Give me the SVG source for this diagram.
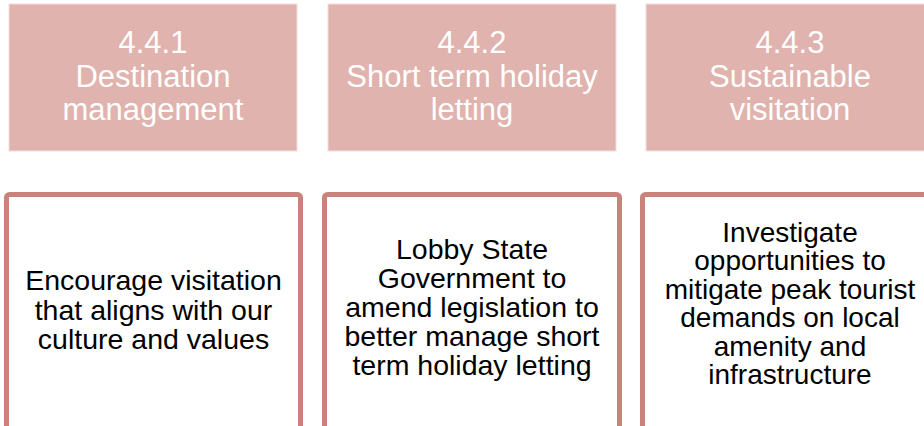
<svg xmlns="http://www.w3.org/2000/svg" width="924" height="426" viewBox="0 0 924 426">
<style>
.hd rect{fill:#e0b3ae;stroke:#f3dedb;stroke-width:1}
.hd text{fill:#ffffff;font-family:"Liberation Sans",Arial,sans-serif;font-size:31px;text-anchor:middle}
.bd rect{fill:#ffffff;stroke:#c9837a;stroke-width:5}
.bd text{fill:#000000;font-family:"Liberation Sans",Arial,sans-serif;font-size:28.5px;text-anchor:middle}
#b3 text{font-size:28px}
</style>
<rect width="924" height="426" fill="#ffffff"/>
<g id="h1" class="hd">
<rect x="9" y="4" width="288" height="147"/>
<text x="153" y="53">4.4.1</text>
<text x="153" y="86.5">Destination</text>
<text x="153" y="119.5">management</text>
</g>
<g id="h2" class="hd">
<rect x="328" y="4" width="288" height="147"/>
<text x="472" y="53">4.4.2</text>
<text x="472" y="86.5">Short term holiday</text>
<text x="472" y="119.5">letting</text>
</g>
<g id="h3" class="hd">
<rect x="646" y="4" width="288" height="147"/>
<text x="790" y="53">4.4.3</text>
<text x="790" y="86.5">Sustainable</text>
<text x="790" y="119.5">visitation</text>
</g>
<g id="b1" class="bd">
<rect x="6.5" y="194.5" width="294" height="240" rx="3"/>
<text x="153.5" y="290">Encourage visitation</text>
<text x="153.5" y="319.5">that aligns with our</text>
<text x="153.5" y="349">culture and values</text>
</g>
<g id="b2" class="bd">
<rect x="324.5" y="194.5" width="295" height="240" rx="3"/>
<text x="472" y="259">Lobby State</text>
<text x="472" y="288">Government to</text>
<text x="472" y="317">amend legislation to</text>
<text x="472" y="346">better manage short</text>
<text x="472" y="375">term holiday letting</text>
</g>
<g id="b3" class="bd">
<rect x="642.5" y="194.5" width="295" height="240" rx="3"/>
<text x="790" y="241.5">Investigate</text>
<text x="790" y="270">opportunities to</text>
<text x="790" y="298.5">mitigate peak tourist</text>
<text x="790" y="327">demands on local</text>
<text x="790" y="355.5">amenity and</text>
<text x="790" y="384">infrastructure</text>
</g>
<g id="connectors"></g>
</svg>
